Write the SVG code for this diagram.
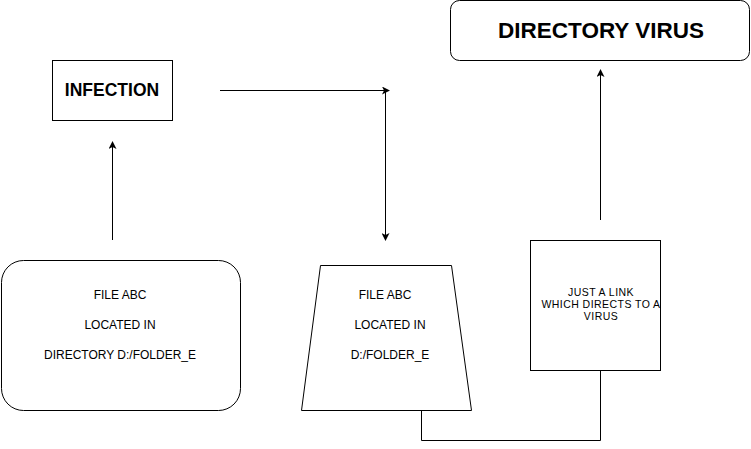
<svg xmlns="http://www.w3.org/2000/svg" width="751" height="449" viewBox="0 0 751 449">
<style>
.s{fill:#fff;stroke:#000;stroke-width:1}
.t{font-family:"Liberation Sans",Arial,sans-serif;font-size:12px;fill:#000;text-anchor:middle}
.sm{font-size:10.5px;letter-spacing:0.45px}
.b{font-family:"Liberation Sans",Arial,sans-serif;font-weight:bold;fill:#000;text-anchor:middle}
.c{fill:none;stroke:#000;stroke-width:1}
</style>
<defs>
<marker id="a" markerWidth="8" markerHeight="8" refX="7" refY="4" orient="auto" markerUnits="userSpaceOnUse">
<path d="M0,0 L8,4 L0,8 L2,4 Z" fill="#000"/>
</marker>
</defs>
<rect width="751" height="449" fill="#fff"/>
<g id="infection">
<rect class="s" x="52.5" y="60.5" width="120" height="60"/>
<text class="b" x="112" y="96" font-size="17.5">INFECTION</text>
</g>
<g id="directory-virus">
<rect class="s" x="450.5" y="0.5" width="299" height="60" rx="9"/>
<text class="b" x="601" y="38" font-size="22.5">DIRECTORY VIRUS</text>
</g>
<g id="file-left">
<rect class="s" x="1.5" y="260.5" width="239" height="150" rx="22"/>
<text class="t" x="120" y="299">FILE ABC</text>
<text class="t" x="120" y="329">LOCATED IN</text>
<text class="t" x="120" y="359">DIRECTORY D:/FOLDER_E</text>
</g>
<g id="file-right">
<path class="s" d="M320.5,265.5 L451.5,265.5 L471.5,410.5 L301.5,410.5 Z"/>
<text class="t" x="385" y="299">FILE ABC</text>
<text class="t" x="390" y="329">LOCATED IN</text>
<text class="t" x="390" y="359">D:/FOLDER_E</text>
</g>
<g id="link">
<rect class="s" x="530.5" y="240.5" width="130" height="130"/>
<text class="t sm" x="601" y="296">JUST A LINK</text>
<text class="t sm" x="601" y="308">WHICH DIRECTS TO A</text>
<text class="t sm" x="601" y="320">VIRUS</text>
</g>
<g id="connectors">
<line class="c" x1="112.5" y1="240" x2="112.5" y2="142" marker-end="url(#a)"/>
<line class="c" x1="220" y1="90.5" x2="389" y2="90.5" marker-end="url(#a)"/>
<line class="c" x1="385.5" y1="90" x2="385.5" y2="240" marker-end="url(#a)"/>
<line class="c" x1="600.5" y1="220" x2="600.5" y2="70" marker-end="url(#a)"/>
<polyline class="c" points="421.5,410.5 421.5,440.5 600.5,440.5 600.5,370.5"/>
</g>
</svg>
